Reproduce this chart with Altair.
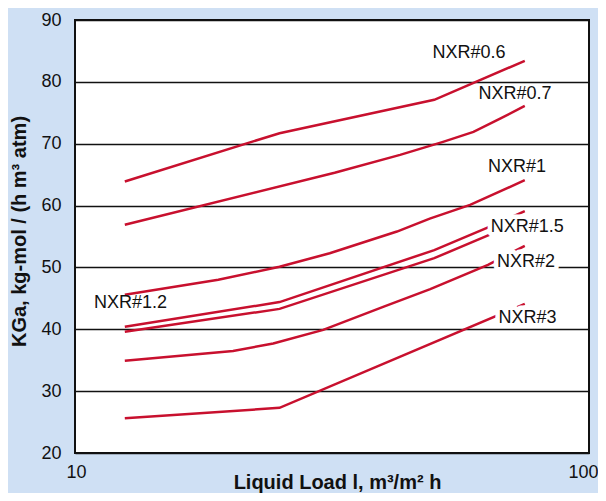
import altair as alt
import pandas as pd

FONT = "Liberation Sans, Arial, Helvetica, sans-serif"
RED = "#c8102e"

# ---- data ----
series_names = ["NXR#0.6", "NXR#0.7", "NXR#1", "NXR#1.2", "NXR#1.5", "NXR#2", "NXR#3"]

x_06 = [12.5, 25, 50, 75]
y_06 = [63.9, 71.7, 77.1, 83.4]

x_07 = [12.5, 32, 42.9, 52, 59.6, 67.3, 75]
y_07 = [56.9, 65.3, 68.2, 70.3, 71.9, 74.1, 76.1]

x_1 = [12.5, 19, 25, 31.3, 42.3, 49, 58.7, 75]
y_1 = [45.6, 48.0, 50.1, 52.3, 55.8, 57.9, 60.1, 64.1]

x_12 = [12.5, 25, 50, 63.3, 75]
y_12 = [40.4, 44.4, 52.8, 56.4, 59.1]

x_15 = [12.5, 25, 50, 63.3, 75]
y_15 = [39.6, 43.3, 51.5, 55.1, 57.7]

x_2 = [12.5, 20.3, 24.3, 30.4, 40, 49.1, 63.6, 75]
y_2 = [34.9, 36.5, 37.7, 39.9, 43.7, 46.5, 50.4, 53.5]

x_3 = [12.5, 25, 75]
y_3 = [25.6, 27.3, 44.1]

label_text = ["NXR#0.6", "NXR#0.7", "NXR#1", "NXR#1.5", "NXR#2", "NXR#3", "NXR#1.2"]
label_x = [58.4, 71.8, 72.4, 75.8, 75.4, 75.9, 12.82]
label_y = [84.6, 78.0, 66.2, 56.5, 50.8, 41.8, 44.2]
label_boxed = [False, False, False, True, True, True, False]

x_ticks = [10, 100]
y_ticks = [20, 30, 40, 50, 60, 70, 80, 90]

# ---- build tables ----
series_x = [x_06, x_07, x_1, x_12, x_15, x_2, x_3]
series_y = [y_06, y_07, y_1, y_12, y_15, y_2, y_3]
rows = []
for name, xs, ys in zip(series_names, series_x, series_y):
    for i, (xv, yv) in enumerate(zip(xs, ys)):
        rows.append({"series": name, "x": xv, "y": yv, "order": i})
df = pd.DataFrame(rows)
labels = pd.DataFrame({"text": label_text, "x": label_x, "y": label_y, "boxed": label_boxed})
boxed = labels[labels["boxed"]]

x_scale = alt.Scale(type="log", domain=[10, 100], nice=False)
y_scale = alt.Scale(domain=[20, 90], nice=False, zero=False)

x_axis = alt.Axis(
    values=x_ticks, format="d", grid=False, domain=False, ticks=False,
    labelPadding=10, labelFontSize=18, labelFont=FONT, labelColor="#111",
    labelFlush=True, labelFlushOffset=9, labelBound=False,
    title="Liquid Load l, m³/m² h", titleFont=FONT, titleFontSize=20,
    titleFontWeight="bold", titleColor="#111",
    titleX=262, titleY=35, titleAlign="center", titleBaseline="alphabetic",
)
y_axis = alt.Axis(
    values=y_ticks, grid=True, gridColor="#111", gridWidth=1.5,
    domain=False, ticks=False, labelPadding=14,
    labelFontSize=18, labelFont=FONT, labelColor="#111",
    title="KGa, kg-mol / (h m³ atm)", titleFont=FONT, titleFontSize=20,
    titleFontWeight="bold", titleColor="#111", titleAngle=270,
    titleX=-50, titleY=211, titleAlign="center", titleBaseline="alphabetic",
)

lines = alt.Chart(df).mark_line(color=RED, strokeWidth=2.5).encode(
    x=alt.X("x:Q", scale=x_scale, axis=x_axis),
    y=alt.Y("y:Q", scale=y_scale, axis=y_axis),
    detail="series:N",
    order="order:Q",
)

halo = alt.Chart(boxed).mark_text(
    font=FONT, fontSize=18, fill="white", stroke="white", strokeWidth=9,
    strokeJoin="round", align="center", baseline="middle",
).encode(x=alt.X("x:Q", scale=x_scale), y=alt.Y("y:Q", scale=y_scale), text="text:N")

text = alt.Chart(labels).mark_text(
    font=FONT, fontSize=18, color="#111", align="center", baseline="middle",
).encode(x=alt.X("x:Q", scale=x_scale), y=alt.Y("y:Q", scale=y_scale), text="text:N")

chart = (
    alt.layer(lines, halo, text)
    .properties(
        width=514, height=433,
        autosize=alt.AutoSizeParams(type="none"),
        padding={"left": 67, "top": 12, "right": 9, "bottom": 40},
    )
    .configure(background="#cfe0f4")
    .configure_view(fill="white", stroke="#111", strokeWidth=2)
)

chart.save("out.html", embed_options={"renderer": "svg", "actions": False})
